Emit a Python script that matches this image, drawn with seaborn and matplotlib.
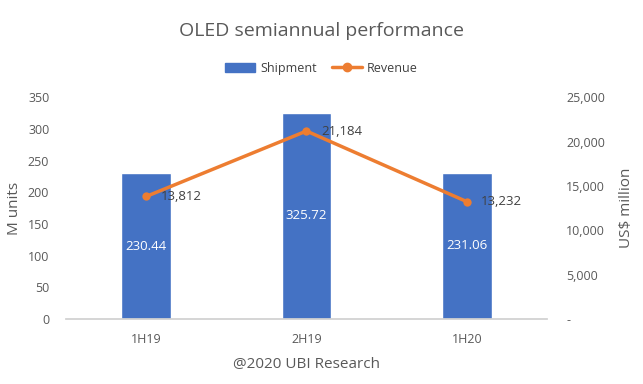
import matplotlib
matplotlib.use("Agg")
import matplotlib.pyplot as plt
import seaborn as sns
import pandas as pd
from matplotlib.ticker import FuncFormatter
from matplotlib.lines import Line2D
from matplotlib.patches import Patch

periods = ["1H19", "2H19", "1H20"]
shipment = [230.44, 325.72, 231.06]
revenue = [13812, 21184, 13232]
left_ticks = [0, 50, 100, 150, 200, 250, 300, 350]
right_ticks = [0, 5000, 10000, 15000, 20000, 25000]

sns.set_theme(style="white")
plt.rcParams['font.family'] = ['Open Sans', 'DejaVu Sans']
gray = "#595959"
dark = "#404040"
blue = "#4472C4"
orange = "#ED7D31"

df = pd.DataFrame({"period": periods, "shipment": shipment, "revenue": revenue})

fig = plt.figure(figsize=(6.43, 3.84), dpi=100)
ax = fig.add_axes([0.1026, 0.169, 0.748, 0.578])
sns.barplot(data=df, x="period", y="shipment", color=blue, width=0.31,
            saturation=1, ax=ax)
ax.set_ylim(0, 350)
ax.set_yticks(left_ticks)
ax.set_xlim(-0.5, 2.5)
ax.set_ylabel("M units", color=gray, fontsize=11)
ax.set_xlabel("@2020 UBI Research", color=gray, fontsize=11, labelpad=8)
ax.tick_params(axis="both", colors=gray, labelsize=9, length=0)
ax.tick_params(axis="x", pad=10)
ax.tick_params(axis="y", pad=12)
for s in ["top", "right", "left"]:
    ax.spines[s].set_visible(False)
ax.spines["bottom"].set_color("#D0D0D0")
for i, v in enumerate(shipment):
    ax.text(i, v / 2, f"{v:.2f}", color="white", ha="center", va="center", fontsize=9.5)

ax2 = ax.twinx()
sns.lineplot(data=df, x="period", y="revenue", color=orange, linewidth=2.5,
             marker="o", markersize=6, markeredgewidth=0, sort=False, ax=ax2)
ax2.set_ylim(0, 25000)
ax2.set_yticks(right_ticks)
ax2.yaxis.set_major_formatter(FuncFormatter(lambda v, p: "-" if v == 0 else f"{int(v):,}"))
ax2.set_ylabel("US$ million", color=gray, fontsize=11, labelpad=10)
ax2.tick_params(axis="y", colors=gray, labelsize=9, length=0, pad=14)
for s in ["top", "right", "left", "bottom"]:
    ax2.spines[s].set_visible(False)
for i, v in enumerate(revenue):
    ax2.text(i + 0.09, v, f"{v:,}", color=dark, ha="left", va="center", fontsize=9.5)

fig.text(0.5, 0.92, "OLED semiannual performance", ha="center", va="center",
         color=gray, fontsize=14)
handles = [Patch(color=blue, label="Shipment"),
           Line2D([0], [0], color=orange, lw=2.5, marker="o", markersize=6, label="Revenue")]
fig.legend(handles=handles, loc="center", bbox_to_anchor=(0.5, 0.822), ncol=2,
           frameon=False, fontsize=9, labelcolor=dark, handlelength=2.4,
           columnspacing=1.2, handletextpad=0.4)

fig.savefig("out.png", dpi=100)
